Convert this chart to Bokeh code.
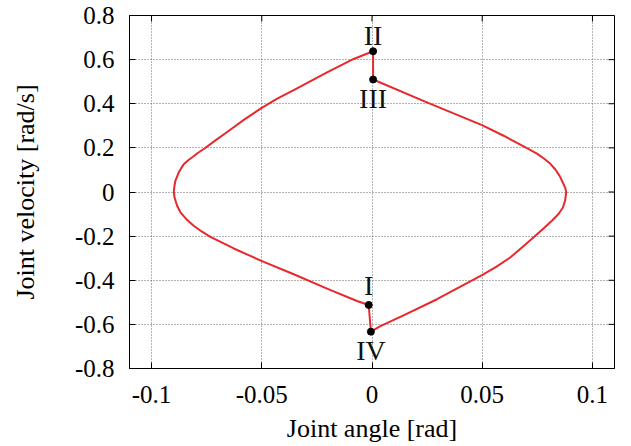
import math
from bokeh.plotting import figure
from bokeh.models import FixedTicker, ColumnDataSource
from bokeh.embed import file_html
from bokeh.resources import INLINE

# Data: closed phase-space trajectory (I -> II -> III -> IV -> I)
left_x = [-0.0015, -0.0068, -0.0204, -0.0355, -0.0502, -0.0627, -0.0733, -0.0771,
          -0.0809, -0.0842, -0.0869, -0.0884, -0.0896, -0.0899, -0.0896, -0.0892,
          -0.0877, -0.0866, -0.0854, -0.0835, -0.0812, -0.0789, -0.0763, -0.0710,
          -0.0657, -0.0580, -0.0502, -0.0430, -0.0355, -0.0204, -0.0083, 0.0005]
left_y = [-0.512, -0.494, -0.438, -0.373, -0.312, -0.256, -0.203, -0.180,
          -0.153, -0.123, -0.092, -0.062, -0.024, 0.003, 0.027, 0.050,
          0.088, 0.107, 0.126, 0.143, 0.160, 0.178, 0.195, 0.234,
          0.272, 0.328, 0.380, 0.423, 0.462, 0.542, 0.603, 0.638]
right_x = [0.0005, 0.0249, 0.0499, 0.0597, 0.0703, 0.0748, 0.0778, 0.0808, 0.0831,
           0.0851, 0.0866, 0.0876, 0.0881, 0.0876, 0.0866, 0.0846, 0.0816,
           0.0778, 0.0736, 0.0684, 0.0627, 0.0565, 0.0499, 0.0295, 0.0143,
           0.0038, -0.0005]
right_y = [0.510, 0.406, 0.303, 0.255, 0.199, 0.174, 0.153, 0.129, 0.103,
           0.073, 0.042, 0.020, 0.000, -0.039, -0.070, -0.100, -0.130,
           -0.165, -0.203, -0.248, -0.297, -0.338, -0.377, -0.486, -0.559,
           -0.608, -0.633]

pt_labels = ["I", "II", "III", "IV"]
pt_x = [-0.0015, 0.0005, 0.0005, -0.0005]
pt_y = [-0.512, 0.638, 0.510, -0.633]

x_ticks = [-0.1, -0.05, 0.0, 0.05, 0.1]
x_tick_labels = ["-0.1", "-0.05", "0", "0.05", "0.1"]
y_ticks = [-0.8, -0.6, -0.4, -0.2, 0.0, 0.2, 0.4, 0.6, 0.8]
y_tick_labels = ["-0.8", "-0.6", "-0.4", "-0.2", "0", "0.2", "0.4", "0.6", "0.8"]

X_MIN, X_MAX = -0.11, 0.11
Y_MIN, Y_MAX = -0.8, 0.8

FONT = "Liberation Serif"

p = figure(width=631, height=446, x_range=(X_MIN, X_MAX), y_range=(Y_MIN, Y_MAX),
           output_backend="svg", toolbar_location=None,
           min_border_left=129, min_border_right=17, min_border_top=15, min_border_bottom=78)

p.outline_line_color = "black"
p.outline_line_width = 1
p.background_fill_color = "white"

p.grid.grid_line_color = "#666666"
p.grid.grid_line_dash = "1 2"
p.grid.grid_line_width = 1

# mirrored inward ticks on top and right edges (half of each dash is clipped by the frame)
p.scatter(x_ticks, [Y_MAX] * len(x_ticks), marker="dash", size=12, angle=math.pi / 2,
          line_color="black", line_width=1)
p.scatter([X_MAX] * len(y_ticks), y_ticks, marker="dash", size=12,
          line_color="black", line_width=1)

curve_x = left_x + right_x + [left_x[0]]
curve_y = left_y + right_y + [left_y[0]]
p.line(curve_x, curve_y, line_color="#e8282c", line_width=2, line_join="round")

src = ColumnDataSource(dict(x=pt_x, y=pt_y, t=pt_labels,
                            off=[-19, -16, 19, 19]))
p.scatter("x", "y", source=src, size=7, color="black")
p.text("x", "y", text="t", source=src, y_offset="off", text_align="center",
       text_baseline="middle", text_font_size="28px", text_color="#111111",
       text_font={"value": FONT})

for ax in (p.xaxis[0], p.yaxis[0]):
    ax.major_tick_in = 6
    ax.major_tick_out = 0
    ax.minor_tick_line_color = None
    ax.axis_line_color = "black"
    ax.major_tick_line_color = "black"
    ax.major_label_text_font = FONT
    ax.major_label_text_font_size = "25px"
    ax.major_label_text_color = "black"
    ax.axis_label_text_font = FONT
    ax.axis_label_text_font_size = "26px"
    ax.axis_label_text_font_style = "normal"
    ax.axis_label_text_color = "black"

p.xaxis.ticker = FixedTicker(ticks=x_ticks)
p.yaxis.ticker = FixedTicker(ticks=y_ticks)
p.xaxis.major_label_overrides = {t: l for t, l in zip(x_ticks, x_tick_labels)}
p.yaxis.major_label_overrides = {t: l for t, l in zip(y_ticks, y_tick_labels)}
p.xaxis.axis_label = "Joint angle [rad]"
p.yaxis.axis_label = "Joint velocity [rad/s]"
p.xaxis.major_label_standoff = 17
p.yaxis.major_label_standoff = 15
p.xaxis.axis_label_standoff = 8
p.yaxis.axis_label_standoff = 32

open("out.html", "w").write(file_html(p, INLINE))
